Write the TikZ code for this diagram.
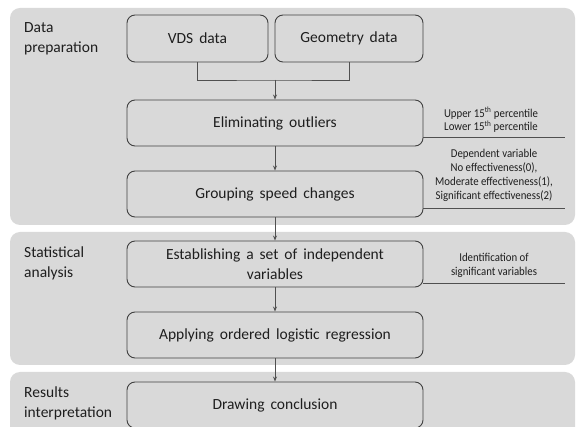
\documentclass[tikz,border=0pt]{standalone}
\usepackage{fontspec}
\setmainfont{Carlito}[WordSpace=1.7]
\newfontfamily\annfont{Carlito}[FakeStretch=0.9]
\usetikzlibrary{arrows.meta}
\definecolor{panelgray}{RGB}{217,217,217}
\definecolor{boxline}{RGB}{64,64,64}
\definecolor{conn}{RGB}{80,80,80}
\definecolor{txt}{RGB}{30,30,30}
\tikzset{
  panel/.style={fill=panelgray, draw=none, rounded corners=10pt},
  stepbox/.style={draw=boxline, fill=panelgray, line width=0.9pt, rounded corners=8pt,
     minimum height=46pt, align=center, text=txt, font=\fontsize{15.5}{20}\selectfont, inner sep=0pt},
  conn/.style={draw=conn, line width=0.9pt},
  arr/.style={conn, -{Stealth[length=5pt,width=4pt]}},
  annline/.style={draw=conn, line width=0.9pt},
  annot/.style={align=center, text=txt, font=\annfont\fontsize{12}{13.8}\selectfont, inner sep=0pt},
  phase/.style={align=left, anchor=north west, text=txt, font=\fontsize{15.5}{20}\selectfont, inner sep=0pt}
}
\begin{document}
\begin{tikzpicture}[x=1pt,y=-1pt]
\useasboundingbox (0,0) rectangle (576,427);
\clip (0,0) rectangle (576,427);
% panels
\path[panel] (10,8) rectangle (575,225);
\path[panel] (10,232) rectangle (575,365);
\path[panel] (10,372) rectangle (575,450);
% phase labels
\node[phase] (p1) at (24,22) {Data\\preparation};
\node[phase] (p2) at (24,247) {Statistical\\analysis};
\node[phase] (p3) at (24,387) {Results\\interpretation};
% boxes
\node[stepbox, minimum width=141pt, minimum height=47pt] (vds) at (197.5,38.5) {VDS data};
\node[stepbox, minimum width=148pt, minimum height=47pt] (geo) at (349,38.5) {Geometry data};
\node[stepbox, minimum width=296pt] (elim) at (275,123) {Eliminating outliers};
\node[stepbox, minimum width=296pt] (group) at (275,194) {Grouping speed changes};
\node[stepbox, minimum width=296pt] (estab) at (275,264) {Establishing a set of independent\\variables};
\node[stepbox, minimum width=296pt] (apply) at (275,335) {Applying ordered logistic regression};
\node[stepbox, minimum width=296pt] (concl) at (275,405) {Drawing conclusion};
% connectors
\coordinate (m) at (275,80);
\draw[conn] (vds.south) |- (m) -| (geo.south);
\draw[arr] (m) -- (elim.north);
\draw[arr] (elim.south) -- (group.north);
\draw[arr] (group.south) -- (estab.north);
\draw[arr] (estab.south) -- (apply.north);
\draw[arr] (apply.south) -- (concl.north);
% annotations
\coordinate (a1) at (565,137);
\coordinate (a2) at (565,208);
\coordinate (a3) at (565,283);
\draw[annline] (elim.east |- a1) -- (a1);
\draw[annline] (group.east |- a2) -- (a2);
\draw[annline] (estab.east |- a3) -- (a3);
\node[annot] (t1) at (491,120) {Upper 15\textsuperscript{th} percentile\\Lower 15\textsuperscript{th} percentile};
\node[annot] (t2) at (494,175.5) {Dependent variable\\No effectiveness(0),\\Moderate effectiveness(1),\\Significant effectiveness(2)};
\node[annot] (t3) at (494,265.5) {Identification of\\significant variables};
\end{tikzpicture}
\end{document}
